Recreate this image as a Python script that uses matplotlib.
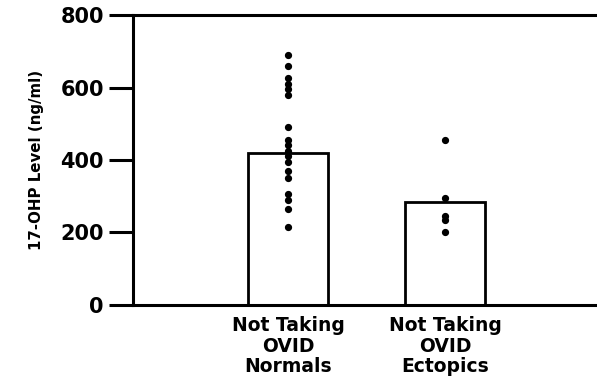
import matplotlib
matplotlib.use("Agg")
import matplotlib.pyplot as plt

# data
groups = ["Not Taking\nOVID\nNormals", "Not Taking\nOVID\nEctopics"]
group_means = [420, 285]
normals = [690, 660, 625, 610, 595, 580, 490, 455, 440, 425, 410, 395,
           370, 350, 305, 290, 265, 215]
ectopics = [455, 295, 245, 235, 200]
yticks = [0, 200, 400, 600, 800]

plt.rcParams['font.family'] = 'DejaVu Sans'
plt.rcParams['font.weight'] = 'bold'

fig = plt.figure(figsize=(5.97, 3.83), dpi=100)
ax = fig.add_axes([0.2228, 0.2037, 0.7772, 0.7571])

x = [0, 1]
ax.bar(x, group_means, width=0.51, color='white', edgecolor='black',
       linewidth=2.0, zorder=2)
ax.plot([x[0]] * len(normals), normals, 'o', color='black', ms=4.2, zorder=3)
ax.plot([x[1]] * len(ectopics), ectopics, 'o', color='black', ms=4.2, zorder=3)

ax.set_xlim(-0.987, 1.968)
ax.set_ylim(0, 800)
ax.set_yticks(yticks)
ax.set_xticks(x)
ax.set_xticklabels(groups, fontsize=13.5, fontweight='bold', linespacing=1.1)
ax.tick_params(axis='x', length=0, pad=8)
ax.tick_params(axis='y', direction='out', length=17, width=2.2, labelsize=15, pad=4)

for side in ['left', 'bottom', 'top']:
    ax.spines[side].set_linewidth(2.2)
ax.spines['right'].set_visible(False)

ax.set_ylabel('17-OHP Level (ng/ml)', fontsize=10.8, fontweight='bold', labelpad=12)

fig.savefig('out.png', dpi=100)
